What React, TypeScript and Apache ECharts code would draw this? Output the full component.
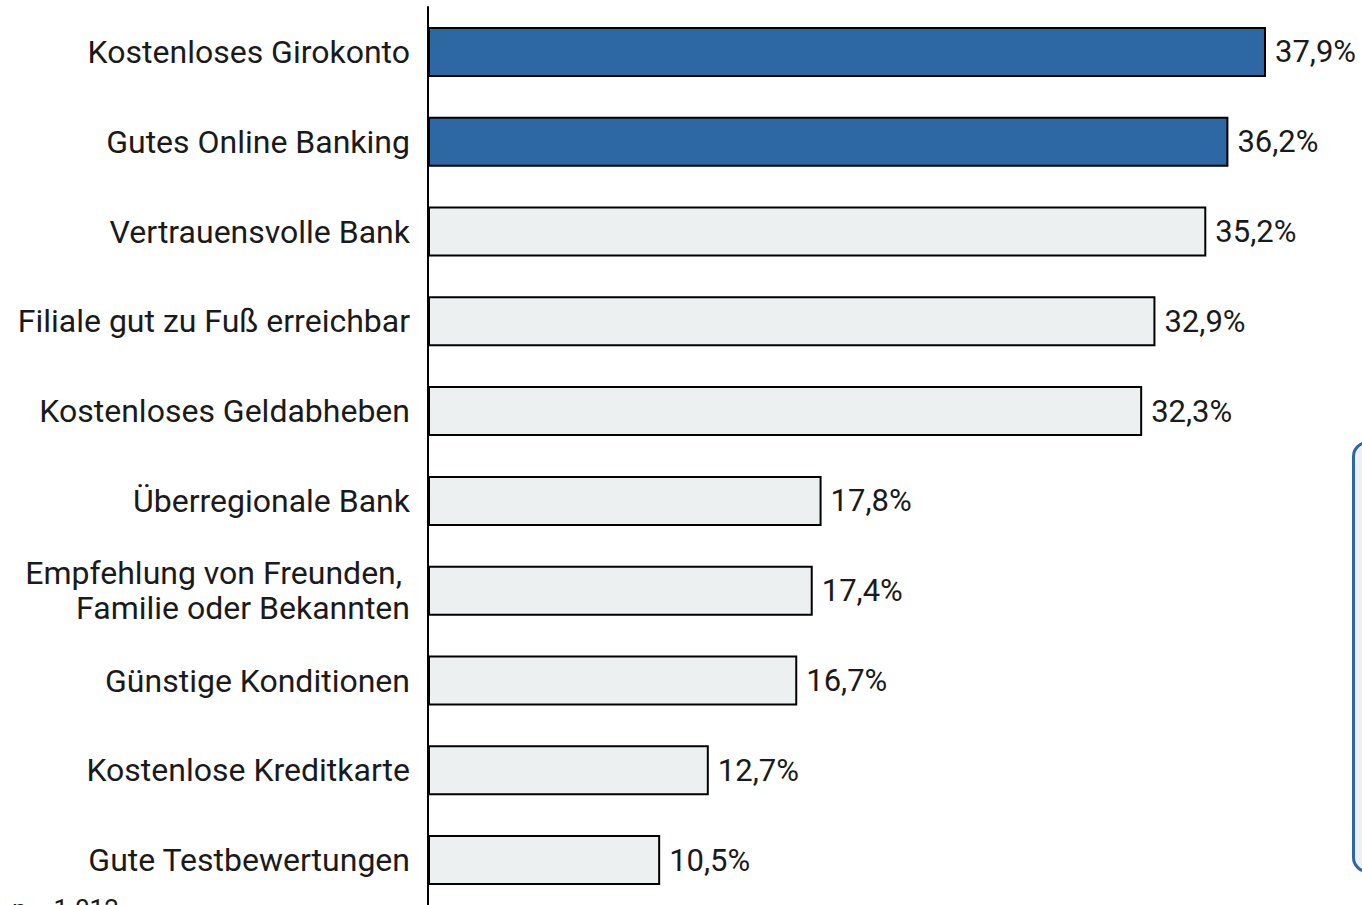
import React, { useEffect, useRef } from "react";
import * as echarts from "echarts";

const categories = [
  "Kostenloses Girokonto",
  "Gutes Online Banking",
  "Vertrauensvolle Bank",
  "Filiale gut zu Fuß erreichbar",
  "Kostenloses Geldabheben",
  "Überregionale Bank",
  "Empfehlung von Freunden, \nFamilie oder Bekannten",
  "Günstige Konditionen",
  "Kostenlose Kreditkarte",
  "Gute Testbewertungen",
];
const values = [37.9, 36.2, 35.2, 32.9, 32.3, 17.8, 17.4, 16.7, 12.7, 10.5];
const highlighted = [true, true, false, false, false, false, false, false, false, false];
const sampleNote = "n = 1.012";

const BLUE = "#2D67A4";
const GREY = "#EDF0F1";

export default function App() {
  const ref = useRef<HTMLDivElement>(null);
  useEffect(() => {
    if (!ref.current) return;
    const chart = echarts.init(ref.current, null, { renderer: "svg" });
    const font = "Roboto";
    chart.setOption({
      animation: false,
      textStyle: { fontFamily: font },
      grid: { left: 428, width: 840.2, top: 7, height: 904, containLabel: false },
      xAxis: {
        type: "value",
        min: 0,
        max: 38,
        show: false,
      },
      yAxis: {
        type: "category",
        inverse: true,
        data: categories,
        axisLine: { show: true, lineStyle: { color: "#000", width: 2 } },
        axisTick: { show: false },
        axisLabel: {
          color: "#1a1a1a",
          fontSize: 32,
          fontFamily: font,
          margin: 18,
          align: "right",
          lineHeight: 35,
        },
      },
      graphic: [
        {
          type: "rect",
          left: 1352,
          top: 441,
          shape: { width: 60, height: 429, r: 14 },
          style: { fill: "#EEF1F3", stroke: BLUE, lineWidth: 3 },
        },
        {
          type: "text",
          left: 12,
          top: 896,
          style: { text: sampleNote, fontSize: 26, fontFamily: font, fill: "#1a1a1a" },
        },
      ],
      series: [
        {
          type: "bar",
          barWidth: 50,
          data: values.map((v, i) => ({
            value: v,
            itemStyle: { color: highlighted[i] ? BLUE : GREY },
          })),
          itemStyle: { borderColor: "#000", borderWidth: 2 },
          label: {
            show: true,
            position: "right",
            distance: 9,
            fontSize: 31,
            fontFamily: font,
            color: "#1a1a1a",
            formatter: (p: any) => p.value.toFixed(1).replace(".", ",") + "%",
          },
        },
      ],
    });
    return () => chart.dispose();
  }, []);
  return (
    <div
      ref={ref}
      style={{ position: "fixed", left: 0, top: 0, width: 1362, height: 905, background: "#fff" }}
    />
  );
}
